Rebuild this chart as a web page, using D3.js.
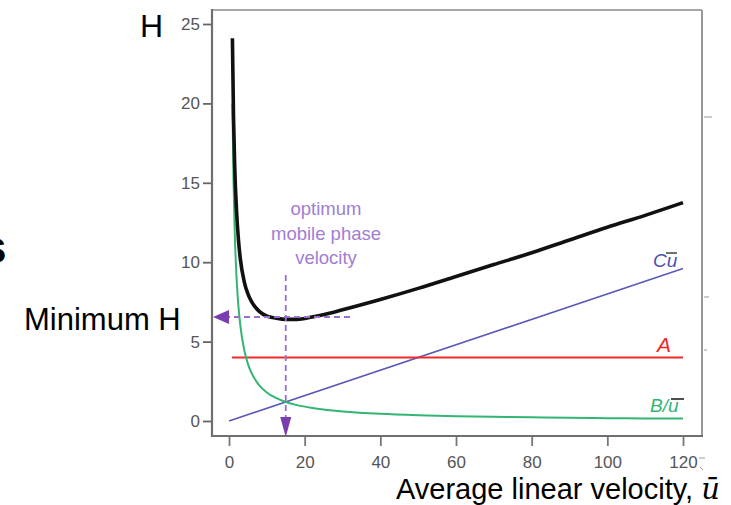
<!DOCTYPE html>
<html><head><meta charset="utf-8">
<script src="https://cdn.jsdelivr.net/npm/d3@7"></script>
<style>
html,body{margin:0;padding:0;background:#fff;}
svg{display:block;}
</style></head>
<body>
<svg id="c" width="731" height="505"></svg>
<script>
// ---- data ----
const velocity   = [0.9,1.2,1.5,2,2.5,3,4,5,6,8,10,12,15,18,22,26,30,40,50,60,70,80,90,100,110,120];
const plateHeight= [24.1,19.1,16.1,13.2,11.4,10.2,8.8,8.0,7.5,6.9,6.6,6.5,6.4,6.4,6.55,6.75,7.0,7.65,8.35,9.1,9.85,10.6,11.4,12.2,12.95,13.75];
const bTerm      = [20,15,12,9,7.2,6,4.5,3.6,3,2.25,1.8,1.5,1.2,1.0,0.82,0.69,0.6,0.45,0.36,0.3,0.26,0.23,0.2,0.18,0.16,0.15];
const cVelocity  = [0,120];
const cTerm      = [0,9.6];
const aVelocity  = [0.8,120];
const aTerm      = [4,4];
const optimumU   = 15;
const minimumH   = 6.55;
const xTicks     = [0,20,40,60,80,100,120];
const yTicks     = [0,5,10,15,20,25];
const annotation = ["optimum","mobile phase","velocity"];

const svg = d3.select("#c");
const x = d3.scaleLinear().domain([0,120]).range([229,683]);
const y = d3.scaleLinear().domain([0,25]).range([421,24]);

const frame = {l:212,t:10,r:702,b:436};
const tickFont = "Liberation Sans, Arial, sans-serif";

// frame
svg.append("line").attr("x1",frame.l).attr("x2",frame.r).attr("y1",frame.t).attr("y2",frame.t).attr("stroke","#8a8a8a").attr("stroke-width",1.6);
svg.append("line").attr("x1",frame.r).attr("x2",frame.r).attr("y1",frame.t).attr("y2",frame.b).attr("stroke","#999").attr("stroke-width",2);
// stray marks on the right side
[[117,8],[297,5],[350,3]].forEach(([yy,len])=>{
  svg.append("line").attr("x1",frame.r+2).attr("x2",frame.r+2+len).attr("y1",yy).attr("y2",yy).attr("stroke","#aaa").attr("stroke-width",1.2);
});

// axes
const xAxis = d3.axisBottom(x).tickValues(xTicks).tickSize(10).tickPadding(10).tickSizeOuter(0);
const gx = svg.append("g").attr("transform",`translate(0,${frame.b})`).call(xAxis);
gx.select(".domain").remove();
gx.selectAll(".tick line").attr("stroke","#777").attr("stroke-width",1.8);
gx.selectAll(".tick text").attr("fill","#555").attr("font-size",17).attr("font-family",tickFont);
svg.append("line").attr("x1",frame.l-1).attr("x2",frame.r+1).attr("y1",frame.b).attr("y2",frame.b).attr("stroke","#6f6f6f").attr("stroke-width",2.2);

const yAxis = d3.axisLeft(y).tickValues(yTicks).tickSize(9).tickPadding(3).tickSizeOuter(0);
const gy = svg.append("g").attr("transform",`translate(${frame.l},0)`).call(yAxis);
gy.select(".domain").remove();
gy.selectAll(".tick line").attr("stroke","#666").attr("stroke-width",1.8);
gy.selectAll(".tick text").attr("fill","#555").attr("font-size",17).attr("font-family",tickFont);
svg.append("line").attr("x1",frame.l).attr("x2",frame.l).attr("y1",frame.t-1).attr("y2",frame.b).attr("stroke","#6f6f6f").attr("stroke-width",2.2);

// stray mark after 120
svg.append("line").attr("x1",699).attr("x2",705).attr("y1",458).attr("y2",458).attr("stroke","#999").attr("stroke-width",1);
svg.append("line").attr("x1",700).attr("x2",703).attr("y1",467).attr("y2",470).attr("stroke","#999").attr("stroke-width",1);

// series
const line = d3.line().x(d=>x(d[0])).y(d=>y(d[1])).curve(d3.curveMonotoneX);
svg.append("path").datum(cVelocity.map((v,i)=>[v,cTerm[i]])).attr("d",line)
  .attr("fill","none").attr("stroke","#5a5ab8").attr("stroke-width",1.6);
svg.append("path").datum(aVelocity.map((v,i)=>[v,aTerm[i]])).attr("d",line)
  .attr("fill","none").attr("stroke","#ee2a2a").attr("stroke-width",2);
svg.append("path").datum(velocity.map((v,i)=>[v,bTerm[i]])).attr("d",line)
  .attr("fill","none").attr("stroke","#33b573").attr("stroke-width",2);
svg.append("path").datum(velocity.map((v,i)=>[v,plateHeight[i]])).attr("d",line)
  .attr("fill","none").attr("stroke","#111").attr("stroke-width",3.6).attr("stroke-linejoin","round");

// purple dashed guides and arrows
const purple = "#7a3db0", dashPurple = "#9a6ed0";
svg.append("line").attr("x1",x(optimumU)).attr("x2",x(optimumU)).attr("y1",275).attr("y2",frame.b-14)
  .attr("stroke",dashPurple).attr("stroke-width",1.8).attr("stroke-dasharray","6,4");
svg.append("path").attr("d",`M${x(optimumU)-5.5},${frame.b-19} L${x(optimumU)+5.5},${frame.b-19} L${x(optimumU)},${frame.b+1} Z`).attr("fill",purple);
svg.append("line").attr("x1",350).attr("x2",frame.l+14).attr("y1",y(minimumH)).attr("y2",y(minimumH))
  .attr("stroke",dashPurple).attr("stroke-width",1.8).attr("stroke-dasharray","6,4");
svg.append("path").attr("d",`M${frame.l+1},${y(minimumH)} L${frame.l+17},${y(minimumH)-7} L${frame.l+17},${y(minimumH)+7} Z`).attr("fill",purple);

// annotation text
svg.append("g").selectAll("text").data(annotation).join("text")
  .attr("x",326).attr("y",(d,i)=>215+i*24.5).attr("text-anchor","middle")
  .attr("font-family",tickFont).attr("font-size",18.5).attr("fill","#a07ed4").text(d=>d);

// curve labels
const lab = svg.append("g").attr("font-family",tickFont).attr("font-style","italic").attr("font-size",19);
lab.append("text").attr("x",653).attr("y",267).attr("fill","#5050b0").text("Cu");
svg.append("line").attr("x1",666).attr("x2",677).attr("y1",253).attr("y2",253).attr("stroke","#333").attr("stroke-width",1.4);
lab.append("text").attr("x",657).attr("y",352).attr("fill","#ee2a2a").attr("font-size",21).text("A");
lab.append("text").attr("x",650).attr("y",412).attr("fill","#33b573").text("B/u");
svg.append("line").attr("x1",671).attr("x2",684).attr("y1",399).attr("y2",399).attr("stroke","#222").attr("stroke-width",1.6);

// outer labels
const big = "Liberation Sans, Arial, sans-serif";
svg.append("text").attr("x",140).attr("y",37).attr("font-family",big).attr("font-size",32).attr("fill","#000").text("H");
svg.append("text").attr("x",24).attr("y",330).attr("font-family",big).attr("font-size",31).attr("fill","#000").text("Minimum H");
svg.append("text").attr("x",-19).attr("y",263).attr("font-family",big).attr("font-weight","bold").attr("font-size",46).attr("fill","#000").text("s");
const xl = svg.append("text").attr("x",396).attr("y",499).attr("font-family",big).attr("font-size",29).attr("fill","#000");
xl.append("tspan").text("Average linear velocity, ");
xl.append("tspan").attr("font-family","DejaVu Serif, serif").attr("font-style","italic").text("ū");
</script>
</body></html>
